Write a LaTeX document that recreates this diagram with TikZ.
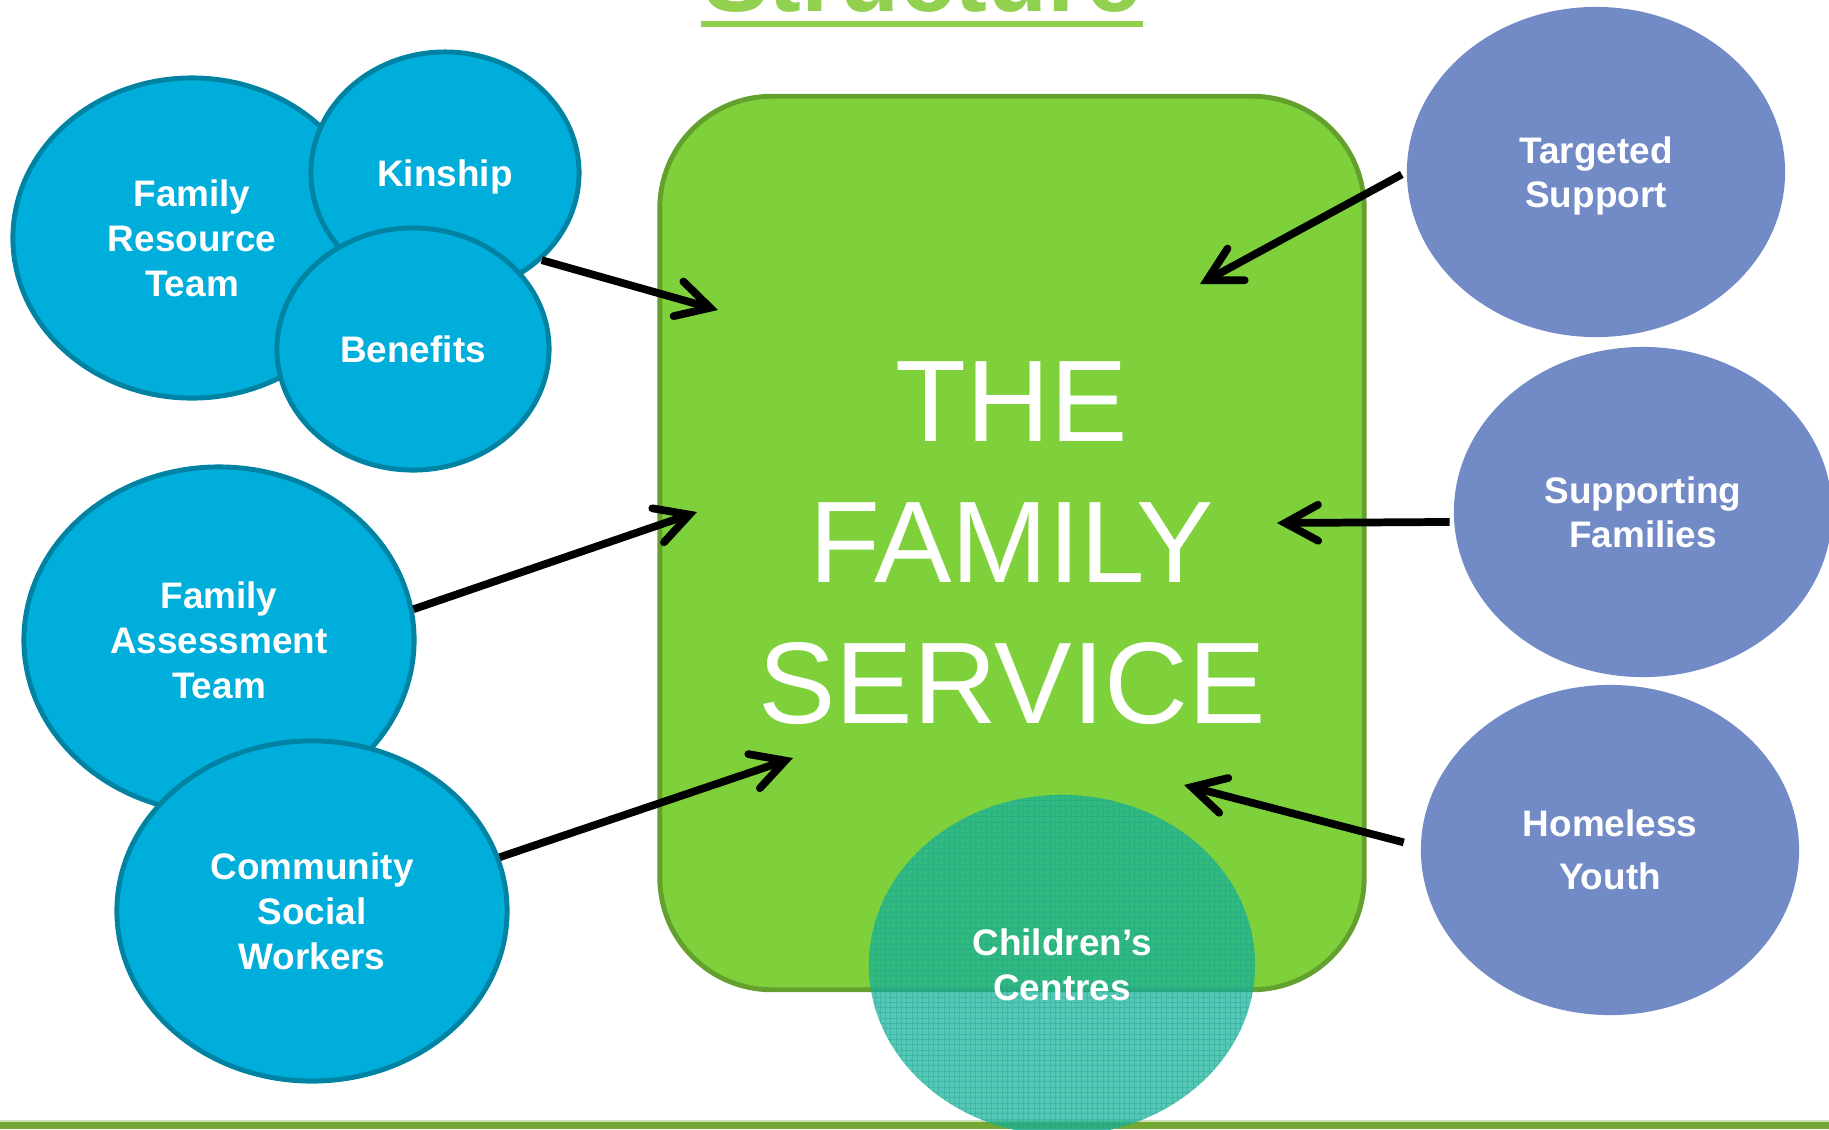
\documentclass[tikz,border=0pt]{standalone}
\usepackage{fontspec}
\setmainfont{Liberation Sans}
\usetikzlibrary{shapes.geometric,arrows.meta}

\definecolor{teamblue}{RGB}{0,174,219}
\definecolor{teamedge}{RGB}{0,131,163}
\definecolor{servpurple}{RGB}{114,139,199}
\definecolor{boxgreen}{RGB}{126,209,59}
\definecolor{boxedge}{RGB}{100,160,45}
\definecolor{titlegreen}{RGB}{146,208,80}
\definecolor{rulegreen}{RGB}{116,168,52}
\definecolor{ccteal}{RGB}{23,177,154}
\definecolor{ccgrid}{RGB}{18,160,140}

\tikzset{
  label font/.style={text=white,align=center,font=\bfseries\fontsize{10.5pt}{12.8pt}\selectfont},
  team/.style={ellipse,draw=teamedge,line width=1.4pt,fill=teamblue,inner sep=0pt,label font},
  partner/.style={ellipse,fill=servpurple,inner sep=0pt,label font,minimum width=3.78cm,minimum height=3.3cm},
  feed/.style={-{Straight Barb[length=3.3mm,width=3.6mm,line cap=round]},line width=2.2pt},
}

\begin{document}
\begin{tikzpicture}[x=0.01cm,y=-0.01cm]
\clip (0,0) rectangle (1829,1129);

% Title and bottom rule
\node (title) at (922,11) [anchor=base,text=titlegreen,font=\bfseries\fontsize{28pt}{30pt}\selectfont] {Structure};
\fill[titlegreen] (701,21) rectangle (1143,27);
\fill[rulegreen!35] (0,1120) rectangle (1829,1122);
\fill[rulegreen] (0,1122) rectangle (1829,1129);

% The teams on the left
\node (frt) at (192,238) [team,minimum width=3.58cm,minimum height=3.2cm] {Family\\Resource\\Team};
\node (kin) at (445,173) [team,minimum width=2.68cm,minimum height=2.42cm,text depth=0pt] {Kinship};
\node (ben) at (413,349) [team,minimum width=2.72cm,minimum height=2.42cm] {Benefits};
\node (fat) at (219,640) [team,minimum width=3.9cm,minimum height=3.46cm] {Family\\Assessment\\Team};
\node (csw) at (312,911) [team,minimum width=3.9cm,minimum height=3.4cm] {Community\\Social\\Workers};

% The service box
\node (fam) at (1012,543) [rectangle,rounded corners=1.12cm,draw=boxedge,line width=1.4pt,fill=boxgreen,
  minimum width=7.04cm,minimum height=8.93cm,text=white,align=center,font=\fontsize{33pt}{40pt}\selectfont]
  {THE\\FAMILY\\SERVICE};

% The partners on the right
\node (ts) at (1596,172) [partner,text depth=0pt,font=\bfseries\fontsize{10.5pt}{12.6pt}\selectfont] {Targeted\\Support};
\node (sf) at (1643,512) [partner,font=\bfseries\fontsize{10.5pt}{12.6pt}\selectfont] {Supporting\\Families};
\node (hy) at (1610,850) [partner,font=\bfseries\fontsize{10.5pt}{15pt}\selectfont] {Homeless\\Youth};

% Arrows into the box
\coordinate (tipkin) at (718,310);
\coordinate (tipfat) at (697,512);
\coordinate (tipcsw) at (793,758);
\coordinate (tipts) at (1200,284);
\coordinate (tipsf) at (1277,523);
\coordinate (tiphy) at (1184,785);
\draw[feed] (kin.-42) -- (tipkin);
\draw[feed] (fat.9) -- (tipfat);
\draw[feed] (csw.16) -- (tipcsw);
\draw[feed,shorten <=0.05cm] (ts.west) -- (tipts);
\draw[feed,shorten <=0.04cm] (sf.183) -- (tipsf);
\draw[feed,shorten <=0.17cm] (hy.179) -- (tiphy);

% Children's centres, see-through with a fine grid
\node (cc) at (1062,965) [ellipse,fill=ccteal,fill opacity=0.73,minimum width=3.86cm,minimum height=3.4cm] {};
\begin{scope}
\clip (cc.center) ellipse [x radius=1.93cm,y radius=1.7cm];
\draw[ccgrid,line width=0.25pt,opacity=0.35,step=0.53mm]
  ([xshift=-1.95cm,yshift=-1.75cm]cc.center) grid ([xshift=1.95cm,yshift=1.75cm]cc.center);
\end{scope}
\node (cctext) at (cc.center) [label font] {Children’s\\Centres};

\end{tikzpicture}
\end{document}
